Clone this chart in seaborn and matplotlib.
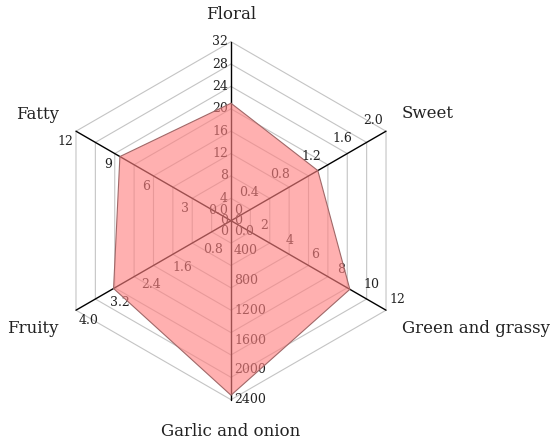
import numpy as np
import matplotlib
matplotlib.use("Agg")
import matplotlib.pyplot as plt
import seaborn as sns

# ---- data ----
categories = ["Floral", "Sweet", "Green and grassy", "Garlic and onion", "Fruity", "Fatty"]
values = [21.0, 1.12, 9.2, 2340, 3.03, 8.6]
axis_max = [32, 2.0, 12, 2400, 4.0, 12]
tick_labels = [
    ["0", "4", "8", "12", "16", "20", "24", "28", "32"],
    ["0.0", "0.4", "0.8", "1.2", "1.6", "2.0"],
    ["0", "2", "4", "6", "8", "10", "12"],
    ["0", "400", "800", "1200", "1600", "2000", "2400"],
    ["0.0", "0.8", "1.6", "2.4", "3.2", "4.0"],
    ["0", "3", "6", "9", "12"],
]
n_rings = 8

sns.set_theme(style="white")
plt.rcParams["font.family"] = ["DejaVu Serif"]

W, H = 550, 444
fig = plt.figure(figsize=(W / 100, H / 100), dpi=100)
ax = fig.add_axes([0, 0, 1, 1])
ax.set_xlim(0, W)
ax.set_ylim(H, 0)
ax.axis("off")

cx, cy, R = 231.0, 220.7, 179.0
angles = np.deg2rad([90, 30, -30, -90, 210, 150])
ux = np.cos(angles)
uy = -np.sin(angles)

# grid rings
for k in range(1, n_rings + 1):
    r = R * k / n_rings
    xs = list(cx + r * ux) + [cx + r * ux[0]]
    ys = list(cy + r * uy) + [cy + r * uy[0]]
    ax.plot(xs, ys, color="#c4c4c4", lw=0.8, zorder=1)

# spokes
for i in range(6):
    ax.plot([cx, cx + R * ux[i]], [cy, cy + R * uy[i]], color="black", lw=1.0, zorder=2)

# tick labels per axis
tick_style = [
    dict(ha="right", va="center", dx=-3, dy=0),
    dict(ha="right", va="bottom", dx=-3, dy=-4),
    dict(ha="left", va="bottom", dx=3, dy=-4),
    dict(ha="left", va="center", dx=3, dy=0),
    dict(ha="left", va="top", dx=3, dy=4),
    dict(ha="right", va="top", dx=-3, dy=4),
]
for i in range(6):
    labs = tick_labels[i]
    nt = len(labs) - 1
    st = tick_style[i]
    for j, lab in enumerate(labs):
        r = R * j / nt
        x = cx + r * ux[i] + st["dx"]
        y = cy + r * uy[i] + st["dy"]
        ax.text(x, y, lab, ha=st["ha"], va=st["va"], fontsize=9, color="#222222", zorder=3)

# axis titles
title_pos = [
    (0, -27, "center"),
    (16, -18, "left"),
    (16, 18, "left"),
    (0, 32, "center"),
    (-17, 18, "right"),
    (-17, -17, "right"),
]
for i, name in enumerate(categories):
    dx, dy, ha = title_pos[i]
    ax.text(cx + R * ux[i] + dx, cy + R * uy[i] + dy, name, ha=ha, va="center",
            fontsize=12, color="#222222", zorder=3)

# data polygon
frac = np.array(values) / np.array(axis_max)
px = cx + R * frac * ux
py = cy + R * frac * uy
ax.fill(px, py, color="#ff8080", alpha=0.62, lw=0, zorder=5)
px_c = np.append(px, px[0])
py_c = np.append(py, py[0])
sns.lineplot(x=px_c, y=py_c, sort=False, estimator=None, color="#a06868", lw=0.8, ax=ax, zorder=6)
ax.set_xlim(0, W)
ax.set_ylim(H, 0)
ax.axis("off")

fig.savefig("out.png", dpi=100)
